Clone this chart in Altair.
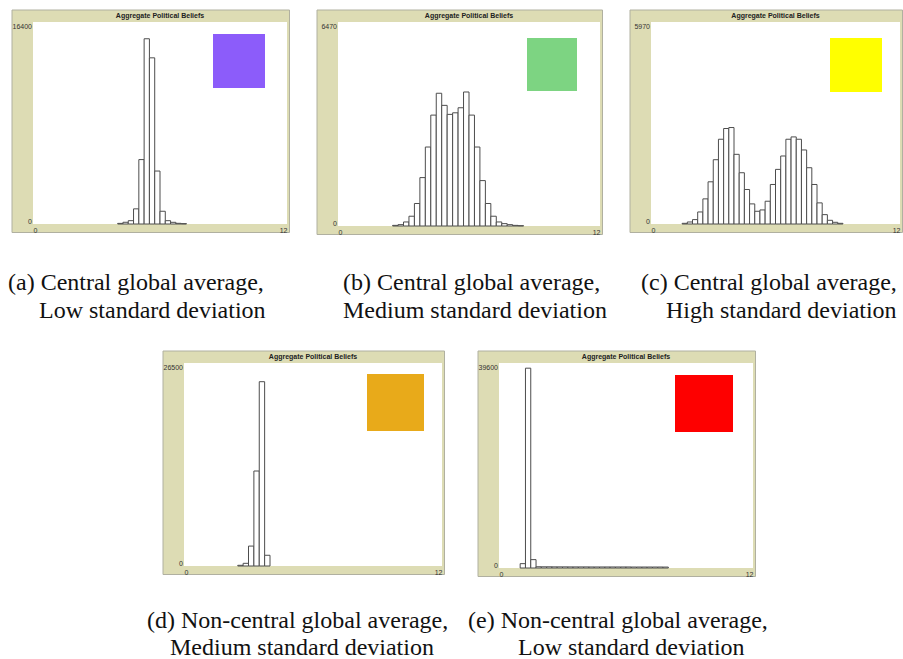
import altair as alt
import pandas as pd

BIN = 0.25
TITLE = "Aggregate Political Beliefs"

# Panel (a)
a_start = 4.0
a_counts = [50, 140, 270, 1230, 5230, 15040, 13490, 4300, 1035, 270, 136, 55, 30]
a_ymax = 16400
# Panel (b)
b_start = 2.5
b_counts = [20, 43, 128, 310, 714, 1535, 2505, 3517, 4210, 3826, 3540, 3590,
            3750, 4250, 3517, 2505, 1440, 714, 310, 128, 75, 43, 20, 10]
b_ymax = 6470
# Panel (c)
c_start = 1.5
c_counts = [20, 60, 130, 356, 743, 1247, 1900, 2505, 2822, 2851, 2059, 1515,
            1020, 594, 376, 416, 673, 1168, 1614, 2010, 2505, 2574, 2505, 2188,
            1663, 1168, 624, 277, 109, 50, 20]
c_ymax = 5970
# Panel (d)
d_start = 2.5
d_counts = [90, 350, 2600, 12400, 24060, 1400]
d_ymax = 26500
# Panel (e)
e_start = 1.0
e_counts = [840, 38600, 1615, 240, 230, 230, 220, 220, 220, 210, 210, 210, 210,
            200, 200, 200, 200, 200, 200, 200, 200, 190, 190, 190, 190, 190, 190, 180]
e_ymax = 39600

x_ticks = [0, 12]

captions = {
    "a": ["(a) Central global average,", "Low standard deviation"],
    "b": ["(b) Central global average,", "Medium standard deviation"],
    "c": ["(c) Central global average,", "High standard deviation"],
    "d": ["(d) Non-central global average,", "Medium standard deviation"],
    "e": ["(e) Non-central global average,", "Low standard deviation"],
}
swatch_colors = {"a": "#8c5cfa", "b": "#7dd482", "c": "#ffff00", "d": "#e8aa1a", "e": "#fe0000"}

BEIGE = "#dddcb4"
BORDER = "#b0b0a0"
LABEL_FONT = "Liberation Sans"
CAP_FONT = "Liberation Serif"
CAP_SIZE = 24
ONE = alt.Data(values=[{"k": 1}])


def panel(key, start, counts, ymax, W, H, sq, cap_x, cap_y, extent):
    lo = [start + BIN * i for i in range(len(counts))]
    df = pd.DataFrame({"lo": lo, "hi": [v + BIN for v in lo], "count": counts})

    # invisible layout box (fixes the panel's bounds for the concat layout)
    box = alt.Chart(ONE).mark_rect(fill="white", opacity=0).encode(
        x=alt.value(extent[0]), x2=alt.value(extent[1]),
        y=alt.value(-12.5), y2=alt.value(extent[2])
    )
    frame = alt.Chart(ONE).mark_rect(fill=BEIGE, stroke=BORDER, strokeWidth=1).encode(
        x=alt.value(-21), x2=alt.value(W + 2.5), y=alt.value(-12), y2=alt.value(H + 8.5)
    )
    white = alt.Chart(ONE).mark_rect(fill="white").encode(
        x=alt.value(0), x2=alt.value(W), y=alt.value(0), y2=alt.value(H)
    )
    bars = alt.Chart(df).mark_rect(fill="white", stroke="#4d4d4d", strokeWidth=1).encode(
        x=alt.X("lo:Q", scale=alt.Scale(domain=[0, 12], nice=False, zero=False),
                axis=alt.Axis(values=x_ticks, title=None, ticks=False, domain=False, grid=False,
                              labelFlush=True, labelPadding=2, labelFontSize=7,
                              labelFont=LABEL_FONT, labelColor="#333333", format="d", zindex=1)),
        x2="hi:Q",
        y=alt.Y("count:Q", scale=alt.Scale(domain=[0, ymax], nice=False),
                axis=alt.Axis(values=[0, ymax], title=None, ticks=False, domain=False, grid=False,
                              labelFlush=True, labelPadding=1.5, labelFontSize=7,
                              labelFont=LABEL_FONT, labelColor="#333333", format="d", zindex=1)),
        y2=alt.datum(0),
    )
    square = alt.Chart(ONE).mark_rect(fill=swatch_colors[key]).encode(
        x=alt.value(sq[0]), x2=alt.value(sq[1]), y=alt.value(sq[2]), y2=alt.value(sq[3])
    )
    title = alt.Chart(ONE).mark_text(
        text=TITLE, font=LABEL_FONT, fontWeight="bold", fontSize=7, color="#222222",
        align="center", baseline="middle"
    ).encode(x=alt.value(W / 2), y=alt.value(-6))
    cap1 = alt.Chart(ONE).mark_text(
        text=captions[key][0], font=CAP_FONT, fontSize=CAP_SIZE, color="#111111",
        align="left", baseline="alphabetic"
    ).encode(x=alt.value(cap_x[0]), y=alt.value(cap_y[0]))
    cap2 = alt.Chart(ONE).mark_text(
        text=captions[key][1], font=CAP_FONT, fontSize=CAP_SIZE, color="#111111",
        align="left", baseline="alphabetic"
    ).encode(x=alt.value(cap_x[1]), y=alt.value(cap_y[1]))
    return alt.layer(box, frame, white, bars, square, title, cap1, cap2).properties(width=W, height=H)


pa = panel("a", a_start, a_counts, a_ymax, 254, 202, (180, 232, 12, 66), (-25, 6), (268, 296), (-25, 273, 310))
pb = panel("b", b_start, b_counts, b_ymax, 262, 204, (189, 239, 16, 69), (5, 5), (268, 296), (-22, 281, 310))
pc = panel("c", c_start, c_counts, c_ymax, 249, 202, (179, 231, 16, 70), (-10, 15), (268, 296), (-22, 252, 310))
pd_ = panel("d", d_start, d_counts, d_ymax, 258, 203, (183, 240, 11, 68), (-37, -14), (265, 292), (-38, 273, 297))
pe = panel("e", e_start, e_counts, e_ymax, 254, 205, (176, 234, 12, 69), (-31, 19), (265, 292), (-32, 280, 297))

SPACER_W = 103
spacer = alt.Chart(ONE).mark_rect(fill="white", opacity=0).encode(
    x=alt.value(0), x2=alt.value(SPACER_W), y=alt.value(-12.5), y2=alt.value(297)
).properties(width=SPACER_W, height=203)

row1 = alt.hconcat(pa, pb, pc, spacing=10, bounds="full")
row2 = alt.hconcat(spacer, pd_, pe, spacing=10, bounds="full")
chart = alt.vconcat(row1, row2, spacing=18, bounds="full").properties(
    padding={"left": 8, "top": 9, "right": 0, "bottom": 0}, background="white"
).configure_view(strokeWidth=0)

chart.save("out.html", embed_options={"renderer": "svg", "actions": False})
